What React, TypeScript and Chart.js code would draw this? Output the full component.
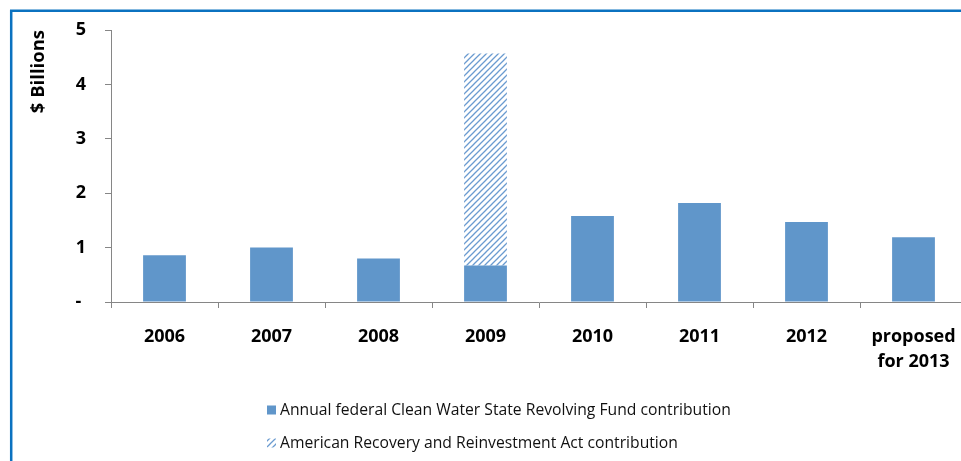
import React, { useEffect, useRef } from "react";
import { Chart, registerables } from "chart.js";

Chart.register(...registerables);

// ---- data ----
const categories: (string | string[])[] = ["2006", "2007", "2008", "2009", "2010", "2011", "2012", ["proposed", "for 2013"]];
const annualContribution = [0.86, 1.0, 0.8, 0.67, 1.58, 1.82, 1.47, 1.19];
const recoveryActContribution = [0, 0, 0, 3.9, 0, 0, 0, 0];
const yTickValues = [0, 1, 2, 3, 4, 5];
const yTickLabels = ["- ", "1", "2", "3", "4", "5"];
const seriesLabels = [
  "Annual federal Clean Water State Revolving Fund contribution",
  "American Recovery and Reinvestment Act contribution",
];
const yAxisTitle = "$ Billions";

// ---- style ----
const BAR_BLUE = "#6096CA";
const AXIS_GRAY = "#868686";
const FRAME_BLUE = "#0B72C0";
const FONT = '"Open Sans", "Liberation Sans", sans-serif';

function makeHatch(): CanvasPattern | string {
  const s = 6;
  const c = document.createElement("canvas");
  c.width = s;
  c.height = s;
  const g = c.getContext("2d");
  if (!g) return BAR_BLUE;
  g.fillStyle = "#ffffff";
  g.fillRect(0, 0, s, s);
  g.strokeStyle = "#6A9BD0";
  g.lineWidth = 1.3;
  g.beginPath();
  g.moveTo(-1, s + 1);
  g.lineTo(s + 1, -1);
  g.moveTo(-1, 1);
  g.lineTo(1, -1);
  g.moveTo(s - 1, s + 1);
  g.lineTo(s + 1, s - 1);
  g.stroke();
  const p = g.createPattern(c, "repeat");
  return p || BAR_BLUE;
}

const framePlugin = {
  id: "frame",
  afterDraw(chart: any) {
    const ctx = chart.ctx as CanvasRenderingContext2D;
    ctx.save();
    ctx.strokeStyle = FRAME_BLUE;
    ctx.lineWidth = 2.5;
    ctx.beginPath();
    ctx.moveTo(11.2, chart.height + 5);
    ctx.lineTo(11.2, 10.8);
    ctx.lineTo(chart.width + 5, 10.8);
    ctx.stroke();
    ctx.restore();
  },
};

const legendPlugin = {
  id: "sideLegend",
  afterDraw(chart: any) {
    const ctx = chart.ctx as CanvasRenderingContext2D;
    const x0 = 267;
    const y0 = 410;
    const row = 33;
    ctx.save();
    chart.data.datasets.forEach((ds: any, i: number) => {
      const y = y0 + i * row;
      ctx.fillStyle = ds.backgroundColor;
      ctx.fillRect(x0, y - 4.5, 9, 9);
      ctx.fillStyle = "#111";
      ctx.font = `15.7px ${FONT}`;
      ctx.textBaseline = "middle";
      ctx.textAlign = "left";
      ctx.fillText(ds.label, x0 + 13, y + 1);
    });
    ctx.restore();
  },
};

export default function App() {
  const ref = useRef<HTMLCanvasElement | null>(null);

  useEffect(() => {
    if (!ref.current) return;
    const hatch = makeHatch();
    const chart = new Chart(ref.current, {
      type: "bar",
      data: {
        labels: categories,
        datasets: [
          {
            label: seriesLabels[0],
            data: annualContribution,
            backgroundColor: BAR_BLUE,
            barPercentage: 0.4,
            categoryPercentage: 1,
          },
          {
            label: seriesLabels[1],
            data: recoveryActContribution,
            backgroundColor: hatch as any,
            barPercentage: 0.4,
            categoryPercentage: 1,
          },
        ],
      },
      options: {
        animation: false,
        responsive: false,
        devicePixelRatio: 1,
        layout: { padding: { left: 0, top: 30, right: 13, bottom: 0 } },
        plugins: {
          legend: { display: false },
          tooltip: { enabled: false },
          title: { display: false },
        },
        scales: {
          x: {
            stacked: true,
            grid: {
              display: true,
              drawOnChartArea: false,
              drawTicks: true,
              tickLength: 6,
              color: AXIS_GRAY,
              offset: true,
            },
            border: { display: true, color: AXIS_GRAY, width: 1 },
            ticks: {
              color: "#000",
              padding: 16,
              maxRotation: 0,
              autoSkip: false,
              font: { family: FONT, size: 18, weight: "bold", lineHeight: 25 / 18 },
            },
            afterFit(scale: any) {
              scale.height = 461 - 302;
            },
          },
          y: {
            stacked: true,
            min: 0,
            max: 5,
            afterBuildTicks(scale: any) {
              scale.ticks = yTickValues.map((v) => ({ value: v }));
            },
            grid: {
              display: true,
              drawOnChartArea: false,
              drawTicks: true,
              tickLength: 6,
              color: AXIS_GRAY,
            },
            border: { display: true, color: AXIS_GRAY, width: 1 },
            ticks: {
              color: "#000",
              padding: 19,
              font: { family: FONT, size: 18, weight: "bold" },
              callback: (value: any) => {
                const i = yTickValues.indexOf(Number(value));
                return i >= 0 ? yTickLabels[i] : "";
              },
            },
            title: {
              display: true,
              text: yAxisTitle,
              align: "end",
              color: "#000",
              padding: { top: 28, bottom: 0 },
              font: { family: FONT, size: 18.5, weight: "bold", lineHeight: 1.2 },
            },
            afterFit(scale: any) {
              scale.width = 111;
            },
          },
        },
      },
      plugins: [framePlugin, legendPlugin],
    });
    return () => chart.destroy();
  }, []);

  return (
    <div
      style={{
        position: "fixed",
        left: 0,
        top: 0,
        width: 961,
        height: 461,
        overflow: "hidden",
        background: "#fff",
      }}
    >
      <canvas
        ref={ref}
        width={980}
        height={461}
        style={{ position: "absolute", left: 0, top: 0, width: 980, height: 461 }}
      />
    </div>
  );
}
